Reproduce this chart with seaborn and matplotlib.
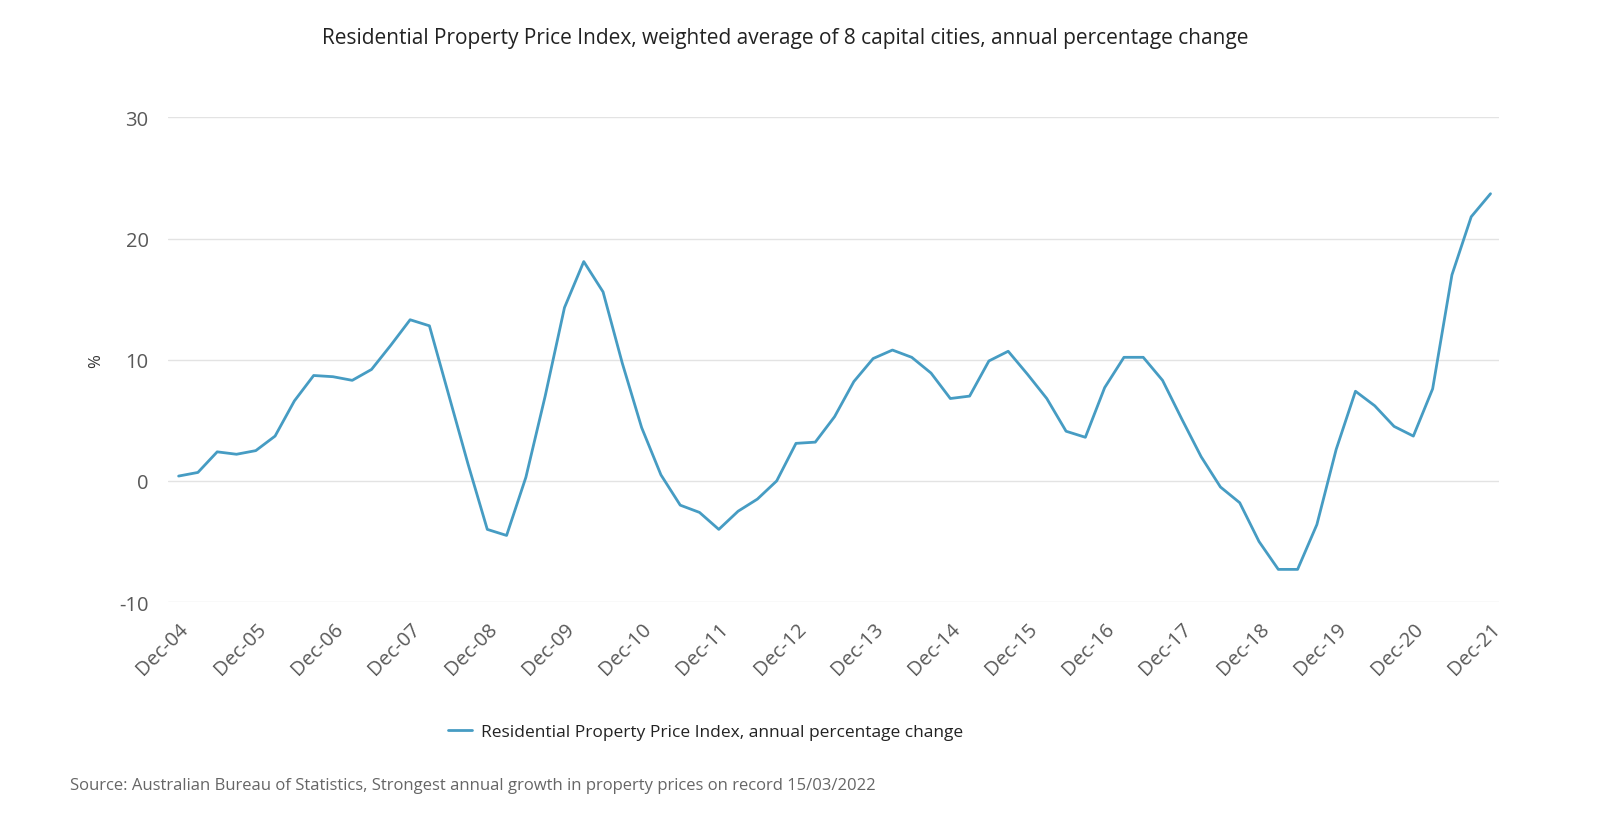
import matplotlib
matplotlib.use("Agg")
import matplotlib.pyplot as plt
import seaborn as sns
import pandas as pd
import numpy as np

# ----- data (quarterly, Dec-04 .. Dec-21) -----
years = [f"{y:02d}" for y in range(4, 22)]
tick_labels = [f"Dec-{y}" for y in years]
annual_change = [
    0.4, 0.7, 2.4, 2.2, 2.5, 3.7, 6.6, 8.7, 8.6, 8.3,
    9.2, 11.2, 13.3, 12.8, 7.1, 1.4, -4.0, -4.5, 0.3, 7.0,
    14.3, 18.1, 15.6, 9.7, 4.4, 0.5, -2.0, -2.6, -4.0, -2.5,
    -1.5, 0.0, 3.1, 3.2, 5.3, 8.2, 10.1, 10.8, 10.2, 8.9,
    6.8, 7.0, 9.9, 10.7, 8.8, 6.8, 4.1, 3.6, 7.7, 10.2,
    10.2, 8.3, 5.1, 2.0, -0.5, -1.8, -5.0, -7.3, -7.3, -3.6,
    2.6, 7.4, 6.2, 4.5, 3.7, 7.6, 17.0, 21.8, 23.7,
]
series_name = "Residential Property Price Index, annual percentage change"
title = "Residential Property Price Index, weighted average of 8 capital cities, annual percentage change"
source = "Source: Australian Bureau of Statistics, Strongest annual growth in property prices on record 15/03/2022"
y_ticks = [-10, 0, 10, 20, 30]
# ----------------------------------------------

df = pd.DataFrame({"quarter": np.arange(len(annual_change)), "value": annual_change})

sns.set_theme(style="white")
plt.rcParams["font.family"] = ["Open Sans", "DejaVu Sans"]
plt.rcParams["axes.unicode_minus"] = False

fig = plt.figure(figsize=(16, 8.29), dpi=100)
# plot area: gridlines from y=118 (30) to y=603 (-10), x from 168 to 1498
ax = fig.add_axes([0.105, 0.2725, 0.832, 0.5847])

line_color = "#469cc3"
sns.lineplot(data=df, x="quarter", y="value", ax=ax, color=line_color,
             linewidth=2.0, label=series_name, legend=False)

ax.set_ylim(-10, 30)
ax.set_yticks(y_ticks)
ax.set_xlim(-0.55, 68.45)
ax.set_xticks(np.arange(0, len(annual_change), 4))
ax.set_xticklabels(tick_labels, rotation=45, ha="right", rotation_mode="anchor")
ax.grid(axis="y", color="#e3e3e3", linewidth=1.0)
ax.set_axisbelow(True)
for s in ax.spines.values():
    s.set_visible(False)
ax.tick_params(axis="both", length=0, labelsize=14.5, labelcolor="#595959")
ax.tick_params(axis="y", pad=14)
ax.tick_params(axis="x", pad=12)
ax.set_xlabel("")
ax.set_ylabel("%", fontsize=12, color="#333333")
ax.yaxis.set_label_coords(-0.048, 0.5)

fig.text(0.4905, 0.953, title, ha="center", va="center", fontsize=15, color="#222222")

handles, labels = ax.get_legend_handles_labels()
fig.legend(handles, labels, loc="center", bbox_to_anchor=(0.441, 0.116), frameon=False,
           fontsize=12.5, handlelength=1.4, handletextpad=0.5, labelcolor="#222222")

fig.text(0.044, 0.052, source, ha="left", va="center", fontsize=12, color="#666666")

plt.savefig("out.png", dpi=100)
